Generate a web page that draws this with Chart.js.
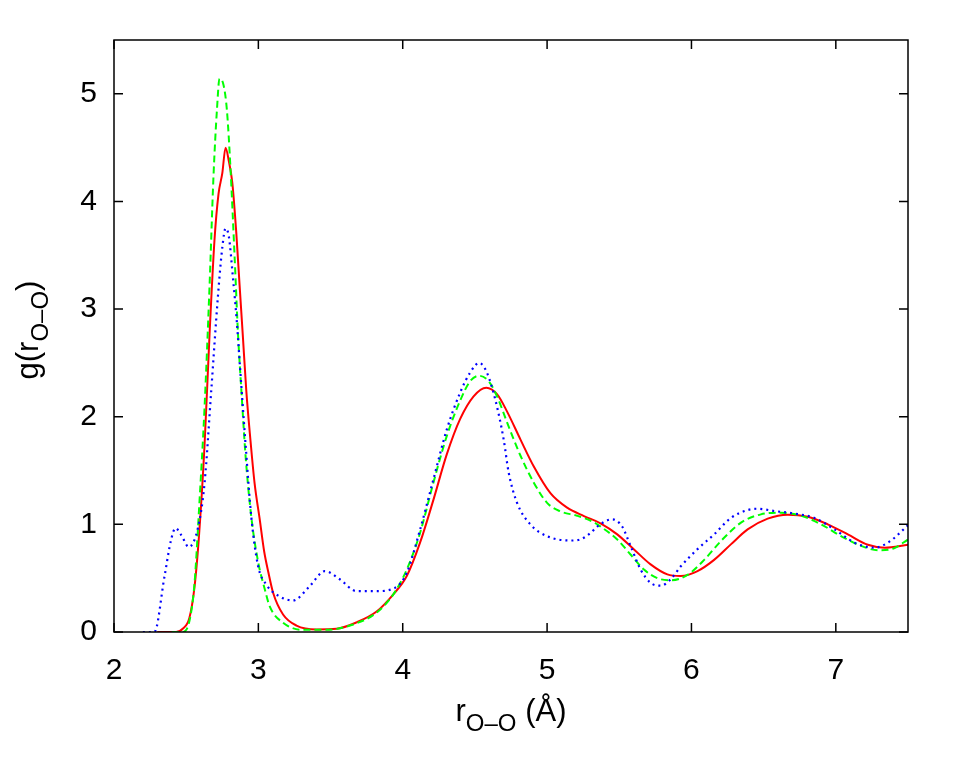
<!DOCTYPE html>
<html>
<head>
<meta charset="utf-8">
<script src="https://cdn.jsdelivr.net/npm/chart.js@4.4.1/dist/chart.umd.min.js"></script>
<style>
  body { margin: 0; background: #fff; }
  #wrap { width: 958px; height: 766px; }
</style>
</head>
<body>
<div id="wrap"><canvas id="rdf-chart" width="958" height="766"></canvas></div>
<script>
// tick positions
const xTicks = [2, 3, 4, 5, 6, 7];
const yTicks = [0, 1, 2, 3, 4, 5];

// red solid curve
const redR = [2.30, 2.43, 2.476, 2.522, 2.557, 2.587, 2.627, 2.662, 2.696, 2.724, 2.75, 2.773, 2.796, 2.819, 2.847, 2.87, 2.893, 2.916, 2.944, 2.974, 3.009, 3.04, 3.07, 3.102, 3.171, 3.264, 3.403, 3.542, 3.681, 3.819, 3.935, 4.028, 4.12, 4.213, 4.305, 4.398, 4.491, 4.579, 4.653, 4.722, 4.815, 4.907, 5.023, 5.139, 5.255, 5.37, 5.486, 5.602, 5.717, 5.833, 5.926, 6.042, 6.157, 6.273, 6.389, 6.528, 6.667, 6.806, 6.944, 7.083, 7.222, 7.338, 7.5];
const redG = [0, 0, 0.03, 0.13, 0.41, 0.86, 1.73, 2.77, 3.64, 4.07, 4.26, 4.5, 4.37, 4.18, 3.71, 3.22, 2.74, 2.25, 1.8, 1.38, 1.05, 0.75, 0.55, 0.365, 0.163, 0.06, 0.024, 0.03, 0.09, 0.19, 0.35, 0.52, 0.83, 1.23, 1.65, 1.98, 2.19, 2.27, 2.21, 2.05, 1.79, 1.54, 1.29, 1.155, 1.077, 1.01, 0.907, 0.767, 0.628, 0.535, 0.52, 0.566, 0.67, 0.814, 0.953, 1.053, 1.09, 1.07, 1.0, 0.907, 0.81, 0.783, 0.81];

// green dashed curve
const greenR = [2.40, 2.476, 2.522, 2.557, 2.592, 2.627, 2.662, 2.689, 2.713, 2.731, 2.759, 2.782, 2.806, 2.836, 2.859, 2.882, 2.912, 2.951, 2.997, 3.044, 3.078, 3.171, 3.31, 3.472, 3.657, 3.819, 3.935, 4.028, 4.12, 4.213, 4.305, 4.398, 4.467, 4.53, 4.595, 4.653, 4.722, 4.815, 4.907, 5.0, 5.093, 5.208, 5.324, 5.37, 5.486, 5.578, 5.671, 5.764, 5.856, 5.972, 6.088, 6.204, 6.343, 6.481, 6.62, 6.759, 6.898, 7.037, 7.176, 7.292, 7.407, 7.5];
const greenG = [0, 0, 0.10, 0.44, 1.21, 2.08, 3.22, 4.23, 4.85, 5.14, 5.08, 4.85, 4.33, 3.47, 2.77, 2.25, 1.625, 1.07, 0.66, 0.40, 0.24, 0.086, 0.02, 0.02, 0.07, 0.18, 0.35, 0.58, 0.92, 1.39, 1.82, 2.15, 2.33, 2.38, 2.33, 2.19, 1.95, 1.64, 1.39, 1.20, 1.12, 1.08, 1.02, 0.98, 0.86, 0.72, 0.58, 0.50, 0.48, 0.53, 0.67, 0.845, 1.016, 1.093, 1.109, 1.08, 1.0, 0.89, 0.80, 0.76, 0.78, 0.86];

// blue dotted curve
const blueR = [2.20, 2.28, 2.349, 2.396, 2.426, 2.466, 2.518, 2.581, 2.627, 2.674, 2.72, 2.75, 2.773, 2.796, 2.824, 2.851, 2.875, 2.912, 2.951, 2.997, 3.055, 3.148, 3.24, 3.356, 3.46, 3.564, 3.68, 3.819, 3.946, 4.028, 4.12, 4.213, 4.305, 4.398, 4.467, 4.53, 4.583, 4.641, 4.699, 4.734, 4.792, 4.884, 5.0, 5.162, 5.231, 5.301, 5.347, 5.451, 5.52, 5.578, 5.648, 5.717, 5.787, 5.856, 5.926, 6.042, 6.157, 6.273, 6.389, 6.458, 6.574, 6.713, 6.852, 6.991, 7.13, 7.268, 7.361, 7.5];
const blueG = [0, 0, 0.51, 0.86, 0.965, 0.90, 0.79, 0.965, 1.38, 2.25, 3.12, 3.57, 3.75, 3.67, 3.29, 2.88, 2.42, 1.73, 1.07, 0.62, 0.44, 0.33, 0.293, 0.426, 0.566, 0.49, 0.38, 0.38, 0.41, 0.55, 0.95, 1.42, 1.88, 2.225, 2.41, 2.50, 2.41, 2.16, 1.79, 1.48, 1.20, 1.00, 0.89, 0.85, 0.86, 0.92, 0.98, 1.047, 0.98, 0.80, 0.58, 0.457, 0.43, 0.49, 0.61, 0.77, 0.907, 1.06, 1.133, 1.145, 1.124, 1.10, 1.06, 0.953, 0.83, 0.783, 0.83, 0.99];

const FONT = '"Liberation Sans", Arial, Helvetica, sans-serif';
const toPoints = (xs, ys) => xs.map((x, i) => ({x: x, y: ys[i]}));

// gnuplot-like frame with inward ticks on all four sides, plus axis titles with subscripts
const framePlugin = {
    id: 'frame',
    afterDraw(chart) {
        const ctx = chart.ctx;
        const a = chart.chartArea;
        const xs = chart.scales.x, ys = chart.scales.y;
        const tl = 9;
        ctx.save();
        ctx.strokeStyle = '#000';
        ctx.lineWidth = 1.5;
        ctx.strokeRect(a.left, a.top, a.right - a.left, a.bottom - a.top);
        ctx.beginPath();
        xTicks.forEach(v => {
            const px = xs.getPixelForValue(v);
            ctx.moveTo(px, a.bottom); ctx.lineTo(px, a.bottom - tl);
            ctx.moveTo(px, a.top); ctx.lineTo(px, a.top + tl);
        });
        yTicks.forEach(v => {
            const py = ys.getPixelForValue(v);
            ctx.moveTo(a.left, py); ctx.lineTo(a.left + tl, py);
            ctx.moveTo(a.right, py); ctx.lineTo(a.right - tl, py);
        });
        ctx.stroke();

        const parts = [['r', false], ['O\u2013O', true], [' (\u00C5)', false]];
        const yParts = [['g(r', false], ['O\u2013O', true], [')', false]];
        const drawRich = (items, cx, base) => {
            let w = 0;
            items.forEach(([t, sub]) => {
                ctx.font = (sub ? 24 : 31) + 'px ' + FONT;
                w += ctx.measureText(t).width;
            });
            let x = cx - w / 2;
            items.forEach(([t, sub]) => {
                ctx.font = (sub ? 24 : 31) + 'px ' + FONT;
                ctx.fillText(t, x, base + (sub ? 10 : 0));
                x += ctx.measureText(t).width;
            });
        };
        ctx.fillStyle = '#000';
        ctx.textBaseline = 'alphabetic';
        ctx.textAlign = 'left';
        drawRich(parts, (a.left + a.right) / 2, 721);

        ctx.translate(38, (a.top + a.bottom) / 2 - 6);
        ctx.rotate(-Math.PI / 2);
        drawRich(yParts, 0, 0);
        ctx.restore();
    }
};

new Chart('rdf-chart', {
    type: 'line',
    data: {
        datasets: [{
            label: 'red',
            data: toPoints(redR, redG),
            borderColor: '#ff0000',
            borderWidth: 2,
            order: 3,
        }, {
            label: 'green',
            data: toPoints(greenR, greenG),
            borderColor: '#00ff00',
            borderWidth: 2,
            borderDash: [7, 4],
            order: 2,
        }, {
            label: 'blue',
            data: toPoints(blueR, blueG),
            borderColor: '#0000ff',
            borderWidth: 2.2,
            borderDash: [2, 4],
            order: 1,
        }],
    },
    options: {
        responsive: false,
        animation: false,
        layout: {
            padding: {left: 0, top: 40, right: 50, bottom: 0}
        },
        elements: {
            point: {radius: 0},
            line: {cubicInterpolationMode: 'monotone', fill: false}
        },
        scales: {
            x: {
                type: 'linear',
                min: 2,
                max: 7.5,
                afterBuildTicks: s => { s.ticks = xTicks.map(v => ({value: v})); },
                afterFit: s => { s.height = 134; },
                grid: {display: false, drawTicks: false},
                border: {display: false},
                ticks: {
                    color: '#000',
                    padding: 21,
                    maxRotation: 0,
                    font: {family: FONT, size: 30},
                }
            },
            y: {
                type: 'linear',
                min: 0,
                max: 5.5,
                afterBuildTicks: s => { s.ticks = yTicks.map(v => ({value: v})); },
                afterFit: s => { s.width = 114; },
                grid: {display: false, drawTicks: false},
                border: {display: false},
                ticks: {
                    color: '#000',
                    padding: 17,
                    font: {family: FONT, size: 30},
                }
            }
        },
        plugins: {
            legend: {display: false},
            tooltip: {enabled: false}
        }
    },
    plugins: [framePlugin]
});
</script>
</body>
</html>
